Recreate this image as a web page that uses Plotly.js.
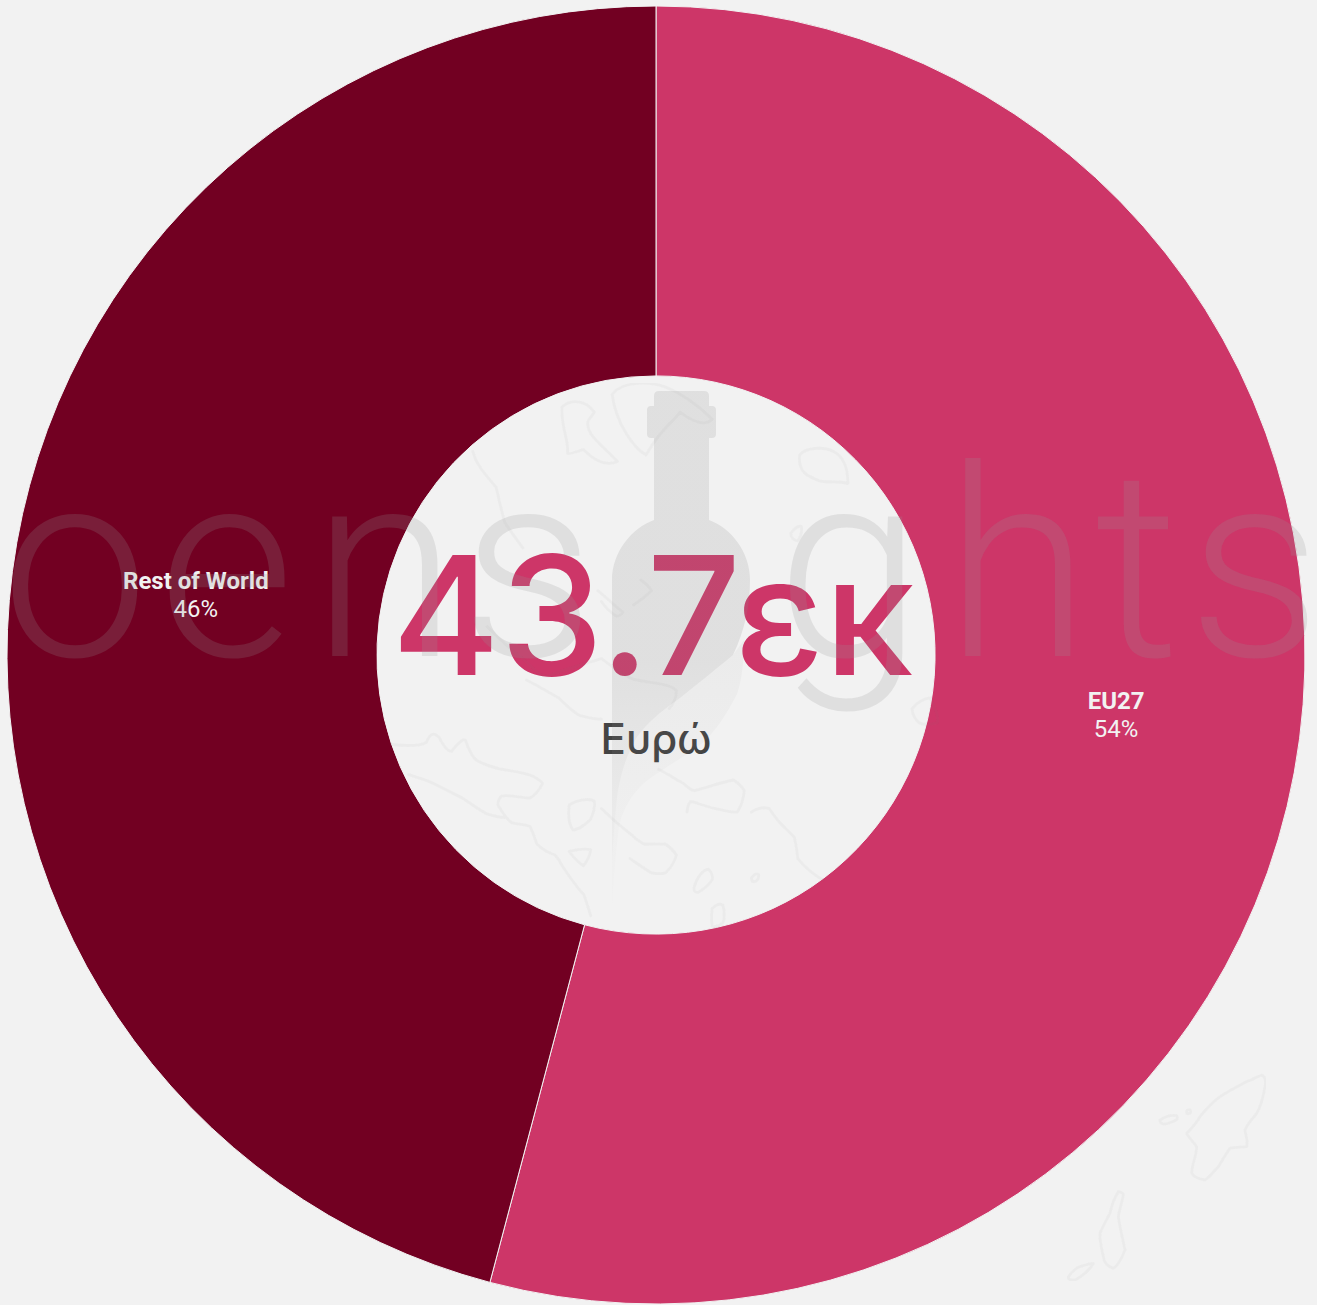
<!DOCTYPE html>
<html>
<head>
<meta charset="utf-8">
<script src="https://cdn.plot.ly/plotly-3.0.1.min.js"></script>
<style>html,body{margin:0;padding:0;background:#f2f2f2;overflow:hidden}#chart{width:1317px;height:1305px}</style>
</head>
<body>
<div id="chart"></div>
<script>
const categories = ["EU27", "Rest of World"];
const values = [23.65, 20.05];
const sliceColors = ["#cd3668", "#720022"];
const centerValue = "43.7εκ";
const centerUnit = "Ευρώ";
const watermarkLetters = ["o", "e", "n", "s", "g", "h", "t", "s"];

const W = 1317, H = 1305;
const cx = 656, cy = 655, R = 649;
const letterX = [75, 226, 384, 528, 850, 1017, 1137, 1255];

const mapLines = [
  "M510 75C540 50 580 60 600 90C590 110 570 110 590 150C610 180 640 200 665 228C640 240 610 235 570 195C550 200 530 210 525 205C530 170 505 130 510 75Z",
  "M650 40C680 0 760 5 800 20C850 40 900 80 930 110C910 130 880 120 840 90C820 120 790 130 745 210C710 190 660 120 650 40Z",
  "M1175 210C1190 190 1240 185 1270 200C1300 215 1310 250 1310 290C1280 280 1240 290 1225 280C1200 270 1170 260 1175 210Z",
  "M260 200C270 240 300 270 325 300C335 340 340 370 350 400C370 430 385 450 400 470",
  "M300 690C340 730 370 760 400 780C430 810 450 830 470 830C510 810 590 790 620 780C660 810 700 840 720 840C770 850 810 850 830 870C830 890 820 910 810 920",
  "M410 840C450 860 480 880 500 890C520 910 540 930 560 940C580 945 600 950 620 950",
  "M30 1020C70 1025 110 1025 130 1015C140 990 150 985 165 1000C180 1030 190 1040 200 1040C215 1020 235 1000 240 1010C250 1040 265 1065 280 1070C300 1080 320 1085 340 1090C370 1095 410 1100 430 1110C445 1120 455 1125 455 1130C445 1150 430 1165 420 1170C390 1170 360 1160 340 1165C330 1175 330 1185 330 1190C345 1215 360 1235 370 1240C395 1245 410 1245 420 1250C430 1270 435 1290 440 1300C460 1320 475 1325 490 1330C500 1340 505 1350 510 1360C530 1390 550 1420 570 1440C580 1465 585 1485 590 1500",
  "M80 1105C110 1115 130 1120 150 1130C180 1145 210 1160 230 1170C260 1190 280 1205 300 1215C320 1222 335 1225 350 1225",
  "M530 1190C550 1175 590 1170 600 1180C605 1205 590 1225 590 1230C570 1250 550 1260 540 1260C530 1245 525 1225 530 1190Z",
  "M620 1200C650 1230 680 1255 700 1270C715 1285 730 1295 740 1300C765 1300 785 1298 800 1300C815 1310 825 1322 830 1330C825 1350 810 1370 800 1380C785 1384 770 1382 760 1380C735 1365 715 1350 700 1340",
  "M780 1090C810 1105 830 1120 850 1130C860 1140 870 1148 880 1150C920 1140 960 1125 990 1120C1005 1130 1015 1140 1020 1150C1018 1175 1008 1200 1000 1210C980 1210 960 1205 940 1200C915 1195 890 1185 870 1180C862 1190 860 1205 860 1210",
  "M1040 1210C1055 1200 1075 1195 1090 1200C1100 1215 1110 1230 1120 1240C1135 1255 1150 1270 1160 1280C1165 1300 1168 1320 1170 1340C1190 1365 1215 1385 1240 1400",
  "M880 1420C885 1395 905 1370 920 1370C932 1380 932 1395 930 1400C915 1420 900 1430 890 1435C880 1435 878 1428 880 1420Z",
  "M1040 1395C1045 1385 1055 1380 1060 1385C1062 1395 1055 1405 1048 1405C1042 1405 1040 1400 1040 1395Z",
  "M530 1320C550 1315 575 1312 590 1315C588 1330 578 1350 570 1360C555 1350 540 1335 530 1320Z",
  "M930 1480C940 1470 950 1465 960 1470C965 1485 965 1510 960 1520C950 1530 938 1532 930 1530C928 1515 928 1495 930 1480Z",
  "M1490 920C1505 900 1530 890 1540 890C1555 915 1565 945 1560 960C1540 965 1520 965 1510 960C1498 950 1490 935 1490 920Z",
  "M610 590C635 610 660 635 680 650C675 660 665 662 660 660C645 650 630 635 620 620",
  "M730 560C745 570 755 580 760 590C745 605 725 620 710 630",
  "M1150 430C1160 415 1172 408 1180 410C1182 425 1178 440 1170 450C1160 450 1150 442 1150 430Z"
].join("");
const dodecanese = [
  "M785 75C795 80 798 95 795 110C790 140 782 170 770 190C755 210 740 225 735 240C738 260 745 280 740 290C720 292 705 290 690 295C675 315 665 335 655 350C640 365 628 382 615 390C600 388 585 385 575 370C575 345 590 315 590 290C580 275 565 262 560 250C575 235 590 220 600 200C620 175 640 155 660 140C690 120 715 108 740 95C760 88 775 78 785 75Z",
  "M480 210C495 200 515 195 530 197C535 205 530 210 525 212C510 218 495 225 490 222C483 220 478 215 480 210Z",
  "M560 183C563 178 570 178 572 183C573 190 565 193 560 190Z",
  "M355 425C362 425 370 430 370 435C365 460 358 480 355 500C360 535 370 575 375 600C365 625 350 650 340 655C325 650 312 640 310 620C305 595 298 570 300 550C310 525 322 505 330 490C335 465 345 440 355 425Z",
  "M205 680C215 665 235 650 240 650C255 645 270 640 280 640C270 660 245 680 225 690C215 692 205 690 205 680Z"
].join("");

const bottleBody = "M654 396Q654 391 659 391L704 391Q709 391 709 396L709 406 712 406Q716 406 716 410L716 434Q716 438 712 438L709 438 709 520C731 528 750 552 750 580C750 605 745 630 733 655C715 670 695 686 680 698C660 712 648 722 637 737C626 755 618 780 616 808C614 830 613 845 612 862L612 580C612 552 632 528 654 520L654 438 651 438Q647 438 647 434L647 410Q647 406 651 406L654 406Z";
const bottleBand = "M744 640C744 660 742 680 737 694C728 712 715 733 701 744C680 760 660 770 644 783C630 796 623 810 619 826C615 860 613 885 612 912L612 862C613 845 614 830 616 808C618 780 626 755 637 737C648 722 660 712 680 698C695 686 715 670 733 655Z";

const svg = `<svg xmlns="http://www.w3.org/2000/svg" width="${W}" height="${H}" viewBox="0 0 ${W} ${H}">
<defs><linearGradient id="f" gradientUnits="userSpaceOnUse" x1="0" y1="660" x2="0" y2="880">
<stop offset="0" stop-color="#8c8c8c" stop-opacity=".18"/><stop offset="1" stop-color="#8c8c8c" stop-opacity=".03"/></linearGradient>
<linearGradient id="b" gradientUnits="userSpaceOnUse" x1="0" y1="640" x2="0" y2="912">
<stop offset="0" stop-color="#8c8c8c" stop-opacity=".07"/><stop offset="1" stop-color="#8c8c8c" stop-opacity=".01"/></linearGradient>
<filter id="s" x="0" y="0" width="1" height="1" filterUnits="objectBoundingBox"><feGaussianBlur stdDeviation="0.7"/></filter></defs>
<g fill="none" stroke="#787878" stroke-opacity=".05" stroke-linejoin="round" stroke-linecap="round" filter="url(#s)">
<g transform="translate(380 380) scale(.35714)" stroke-width="8"><path d="${mapLines}"/></g>
<g transform="translate(1000 1050) scale(.33333)" stroke-width="8.4"><path d="${dodecanese}"/></g>
</g>
<path d="${bottleBody}" fill="url(#f)"/>
<path d="${bottleBand}" fill="url(#b)"/>
</svg>`;

const traces = [
  {
    type: "scatter", mode: "text", x: [cx - 3, cx], y: [634, 743],
    text: [centerValue, centerUnit], textposition: "middle center",
    textfont: { family: "Inter, sans-serif", size: [165, 42], weight: 500, color: ["#cd3668", "#444444"] },
    hoverinfo: "skip", showlegend: false, cliponaxis: false
  },
  {
    type: "pie", labels: categories, values: values, sort: false, direction: "clockwise", rotation: 0,
    hole: 0.43,
    domain: { x: [(cx - R) / W, (cx + R) / W], y: [(H - cy - R) / H, (H - cy + R) / H] },
    marker: { colors: sliceColors, line: { color: "#f2f2f2", width: 1 } },
    texttemplate: "<span style='font-size:24px'><b>%{label}</b></span><br><span style='font-size:24px'>%{percent:.0%}</span>",
    textposition: "inside", insidetextorientation: "horizontal",
    insidetextfont: { family: "Roboto, sans-serif", size: 21.5, color: "#f2f2f2" },
    hoverinfo: "label+percent", showlegend: false
  }
];

const layout = {
  width: W, height: H, margin: { l: 0, r: 0, t: 0, b: 0 },
  paper_bgcolor: "#f2f2f2", plot_bgcolor: "rgba(0,0,0,0)", showlegend: false,
  xaxis: { visible: false, range: [0, W], fixedrange: true },
  yaxis: { visible: false, range: [H, 0], fixedrange: true },
  images: [{
    source: "data:image/svg+xml;charset=utf-8," + encodeURIComponent(svg),
    xref: "paper", yref: "paper", x: 0, y: 1, sizex: 1, sizey: 1,
    xanchor: "left", yanchor: "top", sizing: "stretch", layer: "above"
  }],
  annotations: watermarkLetters.map((ch, i) => ({
    text: ch, xref: "paper", yref: "paper", x: letterX[i] / W, y: 1 - 565 / H,
    xanchor: "center", yanchor: "middle", showarrow: false,
    font: { family: "Roboto, sans-serif", size: 264, weight: 300, color: "rgba(150,150,150,0.2)" }
  }))
};

Plotly.newPlot("chart", traces, layout, { displayModeBar: false });
</script>
</body>
</html>
